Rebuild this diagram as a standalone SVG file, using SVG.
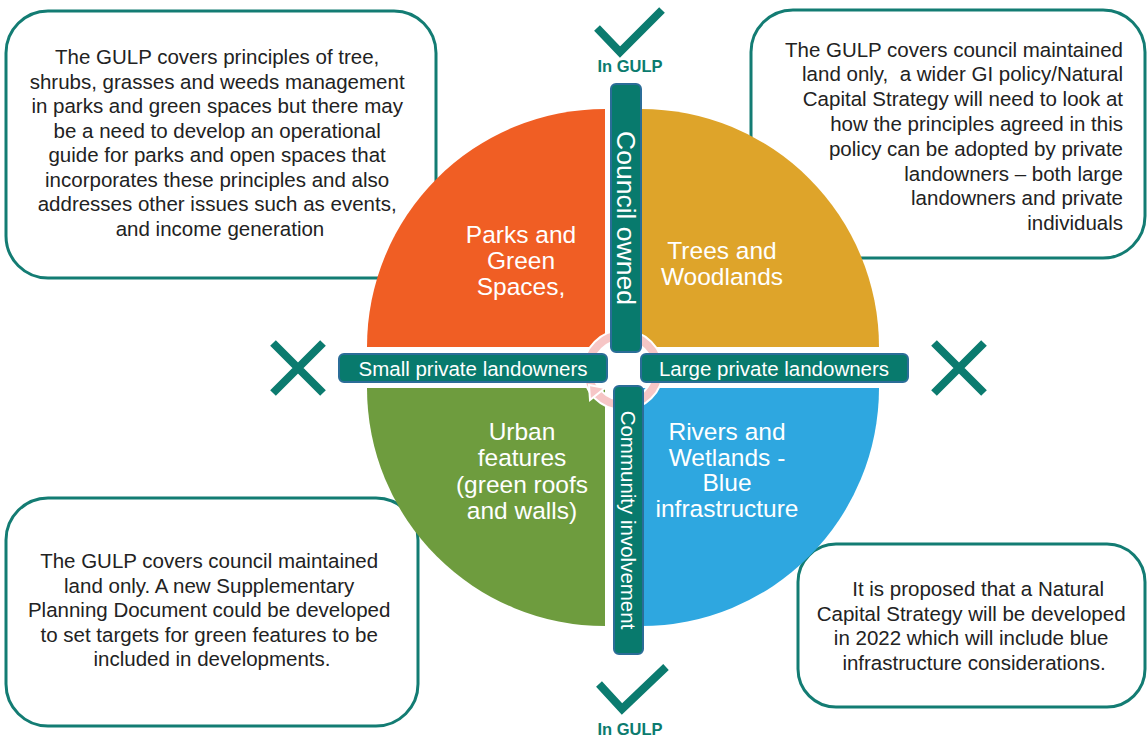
<svg xmlns="http://www.w3.org/2000/svg" width="1148" height="742" viewBox="0 0 1148 742">
<style>
.box{fill:#fff;stroke:#137c73;stroke-width:3}
.bt{font-family:"Liberation Sans",Arial,sans-serif;font-size:20.5px;fill:#222}
.qt{font-family:"Liberation Sans",Arial,sans-serif;font-size:24.5px;fill:#fff;text-anchor:middle}
.bar{fill:#087a6d;stroke:#2b6d98;stroke-width:2}
.lt{font-family:"Liberation Sans",Arial,sans-serif;fill:#fff;text-anchor:middle}
.mark{fill:none;stroke:#0b7b6f;stroke-width:8}
.gulp{font-family:"Liberation Sans",Arial,sans-serif;font-size:16.5px;font-weight:bold;fill:#0b7b6f;text-anchor:middle}
</style>
<rect width="1148" height="742" fill="#fff"/>
<g id="box-parks">
<rect class="box" x="6" y="11" width="430" height="267" rx="42"/>
<text class="bt" text-anchor="middle">
<tspan x="220" y="64">The GULP covers principles of tree,</tspan>
<tspan x="220" y="88.5">shrubs, grasses and weeds management</tspan>
<tspan x="220" y="113">in parks and green spaces but there may</tspan>
<tspan x="220" y="137.5">be a need to develop an operational</tspan>
<tspan x="220" y="162">guide for parks and open spaces that</tspan>
<tspan x="220" y="186.5">incorporates these principles and also</tspan>
<tspan x="220" y="211">addresses other issues such as events,</tspan>
<tspan x="220" y="235.5">and income generation</tspan>
</text>
</g>
<g id="box-trees">
<rect class="box" x="751" y="10" width="394" height="248" rx="42"/>
<text class="bt" text-anchor="end" xml:space="preserve"><tspan x="1123" y="56.5">The GULP covers council maintained</tspan><tspan x="1123" y="81.3">land only,  a wider GI policy/Natural</tspan><tspan x="1123" y="106.1">Capital Strategy will need to look at</tspan><tspan x="1123" y="130.9">how the principles agreed in this</tspan><tspan x="1123" y="155.7">policy can be adopted by private</tspan><tspan x="1123" y="180.5">landowners – both large</tspan><tspan x="1123" y="205.3">landowners and private</tspan><tspan x="1123" y="230.1">individuals</tspan></text>
</g>
<g id="box-urban">
<rect class="box" x="6" y="498" width="412" height="228" rx="42"/>
<text class="bt" text-anchor="middle">
<tspan x="212" y="568">The GULP covers council maintained</tspan>
<tspan x="212" y="592.5">land only. A new Supplementary</tspan>
<tspan x="212" y="617">Planning Document could be developed</tspan>
<tspan x="212" y="641.5">to set targets for green features to be</tspan>
<tspan x="212" y="666">included in developments.</tspan>
</text>
</g>
<g id="box-rivers">
<rect class="box" x="798" y="544" width="347" height="163" rx="38"/>
<text class="bt" text-anchor="middle">
<tspan x="981" y="596">It is proposed that a Natural</tspan>
<tspan x="974" y="620.5">Capital Strategy will be developed</tspan>
<tspan x="974" y="645">in 2022 which will include blue</tspan>
<tspan x="974" y="669.5">infrastructure considerations.</tspan>
</text>
</g>
<g id="q-parks">
<path d="M605,347 L367,347 A238,238 0 0 1 605,109 Z" fill="#f05e24"/>
<text class="qt"><tspan x="521" y="243">Parks and</tspan><tspan x="521" y="269">Green</tspan><tspan x="521" y="295">Spaces,</tspan></text>
</g>
<g id="q-trees">
<path d="M641,347 L641,109 A238,238 0 0 1 879,347 Z" fill="#dea42a"/>
<text class="qt"><tspan x="722" y="259">Trees and</tspan><tspan x="722" y="285">Woodlands</tspan></text>
</g>
<g id="q-urban">
<path d="M605,388 L605,626 A238,238 0 0 1 367,388 Z" fill="#6e9c3e"/>
<text class="qt"><tspan x="522" y="440">Urban</tspan><tspan x="522" y="466">features</tspan><tspan x="522" y="492.5">(green roofs</tspan><tspan x="522" y="518.5">and walls)</tspan></text>
</g>
<g id="q-rivers">
<path d="M641,388 L879,388 A238,238 0 0 1 641,626 Z" fill="#2ea7e0"/>
<text class="qt"><tspan x="727" y="440">Rivers and</tspan><tspan x="727" y="465.5">Wetlands -</tspan><tspan x="727" y="491">Blue</tspan><tspan x="727" y="516.5">infrastructure</tspan></text>
</g>
<g id="ring">
<circle cx="623" cy="370" r="35" fill="none" stroke="#fff" stroke-width="12"/>
<circle cx="623" cy="370" r="35" fill="none" stroke="#f6c6c6" stroke-width="8"/>
<polygon points="589,385 590,400 605,388" fill="#f6c6c6" stroke="#fff" stroke-width="2"/>
</g>
<g id="bar-council">
<rect class="bar" x="611" y="84" width="30" height="268" rx="5"/>
<text class="lt" font-size="26.5" transform="translate(626,218) rotate(90)" x="0" y="9.5">Council owned</text>
</g>
<g id="bar-community">
<rect class="bar" x="614" y="386" width="29" height="268" rx="5"/>
<text class="lt" font-size="20.5" transform="translate(628.5,520) rotate(90)" x="0" y="7.5">Community involvement</text>
</g>
<g id="bar-small">
<rect class="bar" x="339" y="354" width="268" height="28" rx="5"/>
<text class="lt" font-size="20.5" x="473" y="375.5">Small private landowners</text>
</g>
<g id="bar-large">
<rect class="bar" x="641" y="354" width="267" height="28" rx="5"/>
<text class="lt" font-size="20.5" x="774" y="375.5">Large private landowners</text>
</g>
<g id="mark-top">
<polyline class="mark" points="597,28 620,52 662,10"/>
<text class="gulp" x="630" y="72">In GULP</text>
</g>
<g id="mark-bottom">
<polyline class="mark" points="599,684 622,709 666,667"/>
<text class="gulp" x="630" y="735">In GULP</text>
</g>
<g id="x-left">
<path class="mark" d="M273,343 L323,393 M323,343 L273,393"/>
</g>
<g id="x-right">
<path class="mark" d="M934,343 L984,393 M984,343 L934,393"/>
</g>
<g id="connectors"></g>
</svg>
